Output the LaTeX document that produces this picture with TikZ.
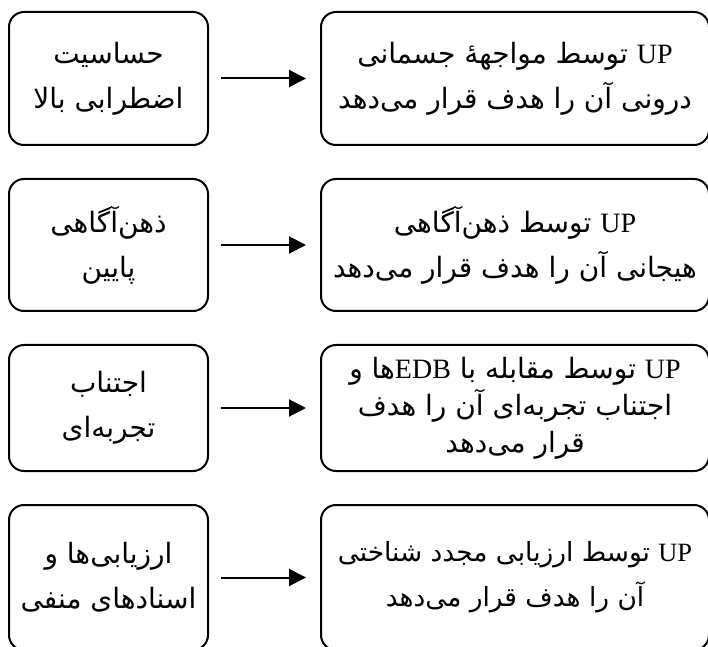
\documentclass[tikz,border=0pt]{standalone}
\usepackage{fontspec}
\usetikzlibrary{positioning,arrows.meta}
\newfontfamily\arabicfont[Script=Arabic]{DejaVu Sans}
\newfontfamily\latinfont{Liberation Serif}
\TeXXeTstate=1
\newcommand\rl[1]{\beginR #1\endR}
\newcommand\en[1]{\beginL{\latinfont #1}\endL}

\begin{document}
\begin{tikzpicture}[
  node distance=16pt and 55.5pt,
  every node/.style={draw, line width=1pt, rounded corners=7.5pt, align=center, inner sep=2pt,
    font=\arabicfont\fontsize{14pt}{22.5pt}\selectfont},
  cause/.style={minimum width=99.5pt},
  target/.style={minimum width=194pt},
  arrow/.style={-{Triangle[length=8.5pt,width=8.5pt]}, line width=1pt, shorten <=6pt, shorten >=7pt}
]
\useasboundingbox (0,0) rectangle (354pt,-323.5pt);
\node (hassasiat) [cause, minimum height=66.5pt, anchor=north west] at (4pt,-5.5pt) {\rl{حساسیت}\\\rl{اضطرابی بالا}};
\node (mavajehe) [target, minimum height=66.5pt, right=of hassasiat] {\rl{\en{UP} توسط مواجهه^^^^0654 جسمانی}\\\rl{درونی آن را هدف قرار می^^^^200cدهد}};
\node (zehnagahi) [cause, minimum height=66pt, below=of hassasiat] {\rl{ذهن^^^^200cآگاهی}\\\rl{پایین}};
\node (hayajani) [target, minimum height=66pt, right=of zehnagahi] {\rl{\en{UP} توسط ذهن^^^^200cآگاهی}\\\rl{هیجانی آن را هدف قرار می^^^^200cدهد}};
\node (ejtenab) [cause, minimum height=63pt, below=of zehnagahi] {\rl{اجتناب}\\\rl{تجربه^^^^200cای}};
\node (moghabele) [target, minimum height=63pt, right=of ejtenab, font=\arabicfont\fontsize{14pt}{18.5pt}\selectfont] {\rl{\en{UP} توسط مقابله با \en{EDB}ها و}\\\rl{اجتناب تجربه^^^^200cای آن را هدف}\\\rl{قرار می^^^^200cدهد}};
\node (arzyabi) [cause, minimum height=72.5pt, below=of ejtenab] {\rl{ارزیابی^^^^200cها و}\\\rl{اسنادهای منفی}};
\node (bazarzyabi) [target, minimum height=72.5pt, right=of arzyabi, font=\arabicfont\fontsize{13.2pt}{22.5pt}\selectfont] {\rl{\en{UP} توسط ارزیابی مجدد شناختی}\\\rl{آن را هدف قرار می^^^^200cدهد}};
\draw[arrow] (hassasiat) -- (mavajehe);
\draw[arrow] (zehnagahi) -- (hayajani);
\draw[arrow] (ejtenab) -- (moghabele);
\draw[arrow] (arzyabi) -- (bazarzyabi);
\end{tikzpicture}
\end{document}
